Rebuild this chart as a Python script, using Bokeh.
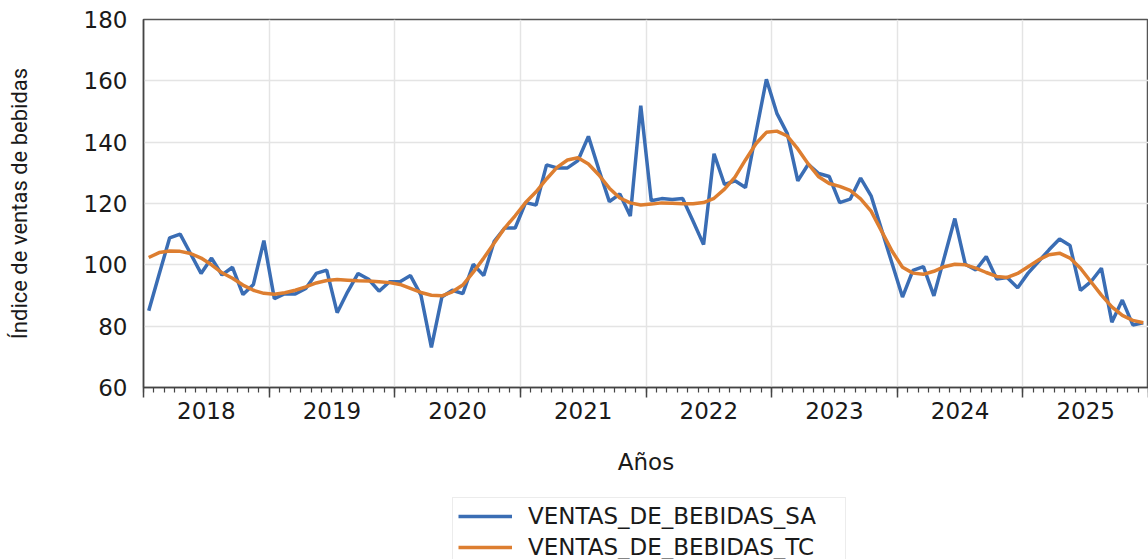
import pandas as pd
from bokeh.plotting import figure
from bokeh.layouts import column
from bokeh.models import (Range1d, FixedTicker, LinearAxis, ColumnDataSource,
                          Legend, LegendItem)
from bokeh.embed import file_html
from bokeh.resources import INLINE

# ---------------- data ----------------
fechas = pd.date_range("2018-01-01", periods=96, freq="MS")

ventas_sa = [
    85.0, 97.0, 108.8, 110.0, 103.6, 97.2, 102.2, 96.7, 99.2, 90.3, 93.6, 107.9,   # 2018
    89.0, 90.6, 90.5, 92.3, 97.2, 98.3, 84.4, 91.2, 97.2, 95.3, 91.4, 94.5,       # 2019
    94.5, 96.5, 90.1, 73.1, 89.5, 91.7, 90.6, 100.2, 96.5, 107.7, 112.0, 112.0,   # 2020
    120.3, 119.5, 132.6, 131.6, 131.6, 134.0, 141.9, 131.0, 120.6, 123.1, 115.9, 151.9,  # 2021
    120.9, 121.6, 121.3, 121.6, 114.2, 106.6, 136.2, 126.2, 127.4, 125.2, 143.0, 160.5,  # 2022
    149.4, 142.8, 127.4, 132.8, 129.8, 128.8, 120.3, 121.4, 128.3, 122.5, 111.5, 100.5,  # 2023
    89.5, 98.2, 99.4, 89.9, 102.5, 115.1, 100.2, 98.3, 102.7, 95.4, 95.9, 92.5,   # 2024
    97.3, 101.1, 104.9, 108.4, 106.3, 91.7, 94.5, 98.9, 81.3, 88.5, 80.4, 81.1,   # 2025
]

ventas_tc = [
    102.4, 104.0, 104.5, 104.4, 103.7, 102.2, 100.0, 97.4, 95.6, 93.4, 91.7, 90.7,  # 2018
    90.4, 90.9, 91.7, 92.8, 94.1, 94.9, 95.2, 95.0, 94.8, 94.7, 94.5, 94.2,       # 2019
    93.6, 92.3, 91.0, 90.1, 89.9, 91.2, 93.4, 97.6, 102.2, 107.1, 112.0, 116.0,   # 2020
    120.3, 123.8, 128.0, 131.8, 134.2, 134.9, 132.9, 129.3, 125.0, 121.8, 120.2, 119.5,  # 2021
    119.8, 120.2, 120.1, 119.9, 119.9, 120.3, 121.7, 124.7, 128.6, 134.2, 139.5, 143.2,  # 2022
    143.6, 142.0, 137.8, 132.9, 128.7, 126.5, 125.6, 124.3, 121.5, 117.5, 111.0, 104.5,  # 2023
    99.2, 97.3, 96.9, 97.9, 99.4, 100.2, 100.0, 98.9, 97.5, 96.2, 95.9, 97.2,    # 2024
    99.4, 101.6, 103.3, 103.8, 102.2, 98.9, 94.5, 90.1, 86.3, 83.5, 81.9, 81.1,   # 2025
]

anios = [2018, 2019, 2020, 2021, 2022, 2023, 2024, 2025]
etiquetas_anios = [str(a) for a in anios]
y_ticks = [60, 80, 100, 120, 140, 160, 180]

serie_sa = "VENTAS_DE_BEBIDAS_SA"
serie_tc = "VENTAS_DE_BEBIDAS_TC"

# ---------------- build ----------------
x = [f.year + (f.month - 0.5) / 12.0 for f in fechas]
src = ColumnDataSource(dict(x=x, sa=ventas_sa, tc=ventas_tc))

FONT = "DejaVu Sans"
TXT = "#1a1a1a"
C_SA = "#3a6db4"
C_TC = "#dd7e30"

p = figure(width=1148, height=487, output_backend="svg", toolbar_location=None,
           x_range=Range1d(anios[0], anios[-1] + 1), y_range=Range1d(60, 180),
           min_border_left=143, min_border_right=0, min_border_top=19,
           min_border_bottom=100, x_axis_location=None)
p.background_fill_color = "white"
p.border_fill_color = "white"
p.outline_line_color = "#555555"
p.outline_line_width = 1.5

# year boundary ticks with monthly minor ticks
bounds = list(range(anios[0], anios[-1] + 2))
months = [anios[0] + k / 12.0 for k in range(len(anios) * 12 + 1)]
ax1 = LinearAxis(ticker=FixedTicker(ticks=bounds, minor_ticks=months))
ax1.major_label_text_font_size = "0px"
ax1.major_label_standoff = 0
ax1.major_tick_out = 10
ax1.major_tick_in = 0
ax1.minor_tick_out = 5
ax1.minor_tick_in = 0
ax1.axis_line_color = "#444444"
ax1.axis_line_width = 1.5
ax1.major_tick_line_color = "#444444"
ax1.major_tick_line_width = 1.5
ax1.minor_tick_line_color = "#444444"
ax1.minor_tick_line_width = 1.2
p.add_layout(ax1, "below")

# year labels centred in each year
mids = [a + 0.5 for a in anios]
ax2 = LinearAxis(ticker=FixedTicker(ticks=mids, minor_ticks=[]))
ax2.major_label_overrides = {m: lab for m, lab in zip(mids, etiquetas_anios)}
ax2.axis_line_color = None
ax2.major_tick_line_color = None
ax2.minor_tick_line_color = None
ax2.major_tick_out = 0
ax2.major_tick_in = 0
ax2.major_label_standoff = 4
ax2.major_label_text_font = FONT
ax2.major_label_text_font_size = "23px"
ax2.major_label_text_color = TXT
ax2.axis_label = "Años"
ax2.axis_label_text_font = FONT
ax2.axis_label_text_font_size = "23px"
ax2.axis_label_text_font_style = "normal"
ax2.axis_label_text_color = TXT
ax2.axis_label_standoff = 27
p.add_layout(ax2, "below")

# y axis
p.yaxis.ticker = FixedTicker(ticks=y_ticks, minor_ticks=[])
p.yaxis.major_tick_out = 0
p.yaxis.major_tick_in = 0
p.yaxis.minor_tick_line_color = None
p.yaxis.major_label_standoff = 16
p.yaxis.major_label_text_font = FONT
p.yaxis.major_label_text_font_size = "23px"
p.yaxis.major_label_text_color = TXT
p.yaxis.axis_line_color = "#444444"
p.yaxis.axis_line_width = 1.5
p.yaxis.axis_label = "Índice de ventas de bebidas"
p.yaxis.axis_label_text_font = "Roboto"
p.yaxis.axis_label_text_font_size = "22px"
p.yaxis.axis_label_text_font_style = "normal"
p.yaxis.axis_label_text_color = TXT
p.yaxis.axis_label_standoff = 49

# grids
p.xgrid.ticker = FixedTicker(ticks=bounds)
p.xgrid.grid_line_color = "#e4e4e4"
p.xgrid.grid_line_width = 1.5
p.ygrid.ticker = FixedTicker(ticks=y_ticks)
p.ygrid.grid_line_color = "#e4e4e4"
p.ygrid.grid_line_width = 1.5

p.line("x", "sa", source=src, line_color=C_SA, line_width=3.5)
p.line("x", "tc", source=src, line_color=C_TC, line_width=3.5)

# ---------------- legend strip (separate figure below the chart) ----------------
lg = figure(width=1148, height=72, output_backend="svg", toolbar_location=None,
            x_range=Range1d(0, 1), y_range=Range1d(0, 1),
            x_axis_location=None, y_axis_location=None,
            min_border_left=0, min_border_right=0, min_border_top=0,
            min_border_bottom=0)
lg.outline_line_color = None
lg.xgrid.visible = False
lg.ygrid.visible = False
lg.background_fill_color = "white"
lg.border_fill_color = "white"
# same series, drawn outside this strip's visible range: only their legend shows
l_sa = lg.line("x", "sa", source=src, line_color=C_SA, line_width=3.5)
l_tc = lg.line("x", "tc", source=src, line_color=C_TC, line_width=3.5)

legend = Legend(items=[LegendItem(label=serie_sa, renderers=[l_sa]),
                       LegendItem(label=serie_tc, renderers=[l_tc])],
                location=(309, -7))
legend.border_line_color = "#d9d9d9"
legend.border_line_width = 1.5
legend.background_fill_alpha = 1.0
legend.label_text_font = FONT
legend.label_text_font_size = "23px"
legend.label_text_color = TXT
legend.glyph_width = 54
legend.glyph_height = 22
legend.label_height = 22
legend.label_width = 312
legend.label_standoff = 16
legend.padding = 5
legend.spacing = 5
legend.margin = 0
legend.label_text_baseline = "middle"
lg.add_layout(legend, "center")

layout = column(p, lg, spacing=0)
open("out.html", "w").write(file_html(layout, INLINE))
